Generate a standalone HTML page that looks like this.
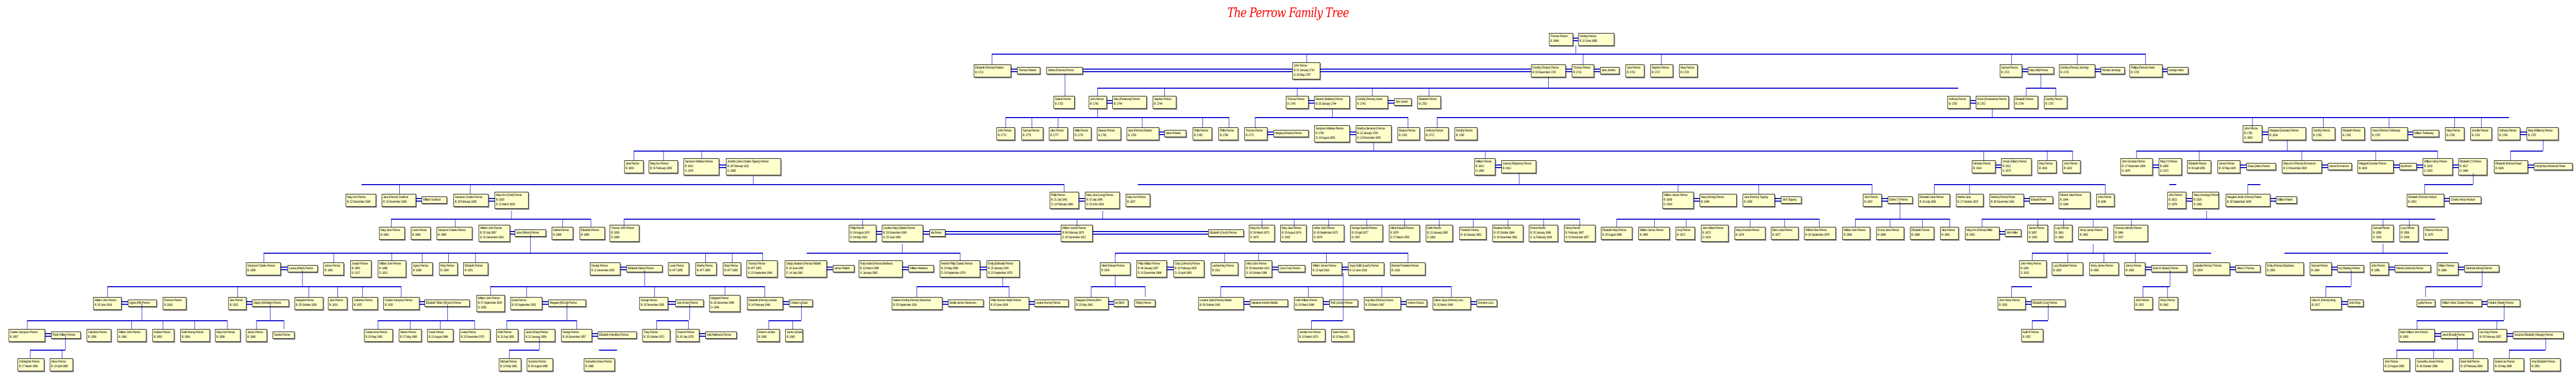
<!DOCTYPE html>
<html><head><meta charset="utf-8"><style>
html,body{margin:0;padding:0;background:#fff;width:100%;height:100%;overflow:hidden}
#c{position:absolute;left:0;top:0;width:6000px;height:733px;overflow:hidden;background:#fff;transform-origin:0 0}
.b{position:absolute;background:#ffffcc;border:1px solid #000;box-shadow:2px 2px 0 #9a9a9a;font:6.5px/9px "Liberation Sans",sans-serif;letter-spacing:-0.45px;overflow:hidden;padding:1px 2px;box-sizing:border-box;white-space:nowrap;color:#000;height:25px}
.t1{height:14px;margin-top:5px;line-height:10px}
.t3{height:33px;margin-top:-4px}
.r0{top:64px}.r1{top:125px}.r2{top:186px}.r3{top:247px}.r4{top:311px}.r5{top:376px}.r6{top:440px}.r7{top:509px}.r8{top:576px}.r9{top:638px}.r10{top:695px}
.h{position:absolute;height:0;border-top:2px solid #0000cc}
.v{position:absolute;width:0;border-left:1px solid #0000cc}
.d{position:absolute;height:3px;border-top:2px solid #0000cc;border-bottom:2px solid #0000cc}
.title{position:absolute;left:2850px;top:10px;width:300px;text-align:center;font:italic 25px "DejaVu Serif",serif;color:#ff0000;letter-spacing:-1px;white-space:nowrap;overflow:hidden}
</style></head><body><div id="c">
<div class="title">The Perrow Family Tree</div>

<div class="b r0" style="left:3608px;width:56px">Thomas Perrow<br>B: 1684</div>
<div class="b r0" style="left:3676px;width:84px">Dorothy Perrow<br>B: 10 June 1689</div>
<div class="d" style="left:3664px;top:73px;width:12px"></div>

<div class="b r1" style="left:2268px;width:87px">Elizabeth (Perrow) Roberts<br>B: 1713</div>
<div class="b r1 t1" style="left:2369px;width:54px">Thomas Roberts</div>
<div class="b r1 t1" style="left:2437px;width:85px">Sabina (Pascoe) Perrow</div>
<div class="b r1 t3" style="left:3010px;width:65px">John Perrow<br>B: 01 January 1710<br>D: 20 May 1787</div>
<div class="b r1" style="left:3566px;width:81px">Dorothy (Tonkyn) Perrow<br>B: 03 December 1720</div>
<div class="b r1" style="left:3661px;width:52px">Thomas Perrow<br>B: 1713</div>
<div class="b r1 t1" style="left:3727px;width:45px">Jane Jenkins</div>
<div class="b r1" style="left:3786px;width:44px">Jane Perrow<br>B: 1715</div>
<div class="b r1" style="left:3844px;width:53px">Stephen Perrow<br>B: 1717</div>
<div class="b r1" style="left:3911px;width:43px">Mary Perrow<br>B: 1719</div>
<div class="b r1" style="left:4658px;width:52px">Samuel Perrow<br>B: 1721</div>
<div class="b r1 t1" style="left:4723px;width:61px">Mary (Hill) Perrow</div>
<div class="b r1" style="left:4796px;width:84px">Dorothy (Perrow) Jennings<br>B: 1723</div>
<div class="b r1 t1" style="left:4893px;width:56px">Richard Jennings</div>
<div class="b r1" style="left:4960px;width:77px">Phillipa (Perrow) Harris<br>B: 1725</div>
<div class="b r1 t1" style="left:5048px;width:49px">George Harris</div>

<div class="b r2" style="left:2454px;width:49px">Sabina Perrow<br>B: 1732</div>
<div class="b r2" style="left:2536px;width:42px">John Perrow<br>B: 1742</div>
<div class="b r2" style="left:2591px;width:80px">Alice (Pentecost) Perrow<br>B: 1744</div>
<div class="b r2" style="left:2685px;width:55px">Stephen Perrow<br>B: 1744</div>
<div class="b r2" style="left:2995px;width:53px">Thomas Perrow<br>B: 1745</div>
<div class="b r2" style="left:3061px;width:83px">Eleanor (Mathew) Perrow<br>B: 25 January 1744</div>
<div class="b r2" style="left:3158px;width:75px">Dorothy (Perrow) Jewel<br>B: 1743</div>
<div class="b r2 t1" style="left:3247px;width:41px">John Jewel</div>
<div class="b r2" style="left:3301px;width:55px">Elizabeth Perrow<br>B: 1752</div>
<div class="b r2" style="left:4536px;width:53px">Anthony Perrow<br>B: 1755</div>
<div class="b r2" style="left:4602px;width:77px">Honor (Rosewarne) Perrow<br>B: 1752</div>
<div class="b r2" style="left:4691px;width:56px">Elizabeth Perrow<br>B: 1754</div>
<div class="b r2" style="left:4761px;width:54px">Dorothy Perrow<br>B: 1757</div>

<div class="b r3" style="left:2321px;width:43px">John Perrow<br>B: 1773</div>
<div class="b r3" style="left:2379px;width:51px">Samuel Perrow<br>B: 1775</div>
<div class="b r3" style="left:2443px;width:44px">Alice Perrow<br>B: 1777</div>
<div class="b r3" style="left:2500px;width:42px">Millie Perrow<br>B: 1779</div>
<div class="b r3" style="left:2555px;width:56px">Eleanor Perrow<br>B: 1781</div>
<div class="b r3" style="left:2624px;width:76px">Jane (Perrow) Roberts<br>B: 1783</div>
<div class="b r3 t1" style="left:2712px;width:51px">Oliver Roberts</div>
<div class="b r3" style="left:2778px;width:45px">Phillis Perrow<br>B: 1785</div>
<div class="b r3" style="left:2838px;width:46px">Phillis Perrow<br>B: 1794</div>
<div class="b r3" style="left:2898px;width:54px">Thomas Perrow<br>B: 1771</div>
<div class="b r3 t1" style="left:2966px;width:82px">Margery (Pearce) Perrow</div>
<div class="b r3 t3" style="left:3061px;width:83px">Sampson Mathew Perrow<br>B: 1780<br>D: 19 August 1851</div>
<div class="b r3 t3" style="left:3158px;width:83px">Martha (Jameson) Perrow<br>B: 12 January 1783<br>D: 13 December 1852</div>
<div class="b r3" style="left:3255px;width:52px">Eleanor Perrow<br>B: 1782</div>
<div class="b r3" style="left:3318px;width:56px">Anthony Perrow<br>B: 1772</div>
<div class="b r3" style="left:3388px;width:53px">Dorothy Perrow<br>B: 1780</div>
<div class="b r3 t3" style="left:5224px;width:45px">John Perrow<br>B: 1781<br>D: 1852</div>
<div class="b r3" style="left:5283px;width:88px">Margaret (Dunstan) Perrow<br>B: 1824</div>
<div class="b r3" style="left:5385px;width:54px">Dorothy Perrow<br>B: 1783</div>
<div class="b r3" style="left:5453px;width:55px">Elizabeth Perrow<br>B: 1785</div>
<div class="b r3" style="left:5522px;width:86px">Honor (Perrow) Trethewey<br>B: 1787</div>
<div class="b r3 t1" style="left:5620px;width:61px">William Trethewey</div>
<div class="b r3" style="left:5695px;width:45px">Mary Perrow<br>B: 1789</div>
<div class="b r3" style="left:5754px;width:50px">Jennifer Perrow<br>B: 1791</div>
<div class="b r3" style="left:5818px;width:52px">Anthony Perrow<br>B: 1794</div>
<div class="b r3" style="left:5885px;width:74px">Mary (Williams) Perrow<br>B: 1797</div>

<div class="b r4" style="left:1454px;width:45px">Jane Perrow<br>B: 1803</div>
<div class="b r4" style="left:1511px;width:68px">Mary Ann Perrow<br>B: 15 February 1805</div>
<div class="b r4 t3" style="left:1592px;width:83px">Sampson Mathew Perrow<br>B: 1810<br>D: 1878</div>
<div class="b r4 t3" style="left:1691px;width:128px">Jennifer (Jane Charles Tippery) Perrow<br>B: 26 February 1811<br>D: 1885</div>
<div class="b r4 t3" style="left:3434px;width:49px">William Perrow<br>B: 1812<br>D: 1863</div>
<div class="b r4" style="left:3497px;width:81px">Joanna (Stephens) Perrow<br>B: 1812</div>
<div class="b r4" style="left:4593px;width:55px">Nicholas Perrow<br>B: 1814</div>
<div class="b r4 t3" style="left:4661px;width:71px">Ursula (Tellam) Perrow<br>B: 1812<br>D: 1873</div>
<div class="b r4" style="left:4746px;width:44px">Mary Perrow<br>B: 1816</div>
<div class="b r4" style="left:4804px;width:42px">John Perrow<br>B: 1822</div>
<div class="b r4 t3" style="left:4939px;width:75px">John Dunstan Perrow<br>B: 17 November 1808<br>D: 1876</div>
<div class="b r4 t3" style="left:5028px;width:54px">Mary (?) Perrow<br>B: 1808<br>D: 1872</div>
<div class="b r4" style="left:5094px;width:56px">Elizabeth Perrow<br>B: 04 April 1855</div>
<div class="b r4" style="left:5165px;width:53px">James Perrow<br>B: 19 May 1828</div>
<div class="b r4 t1" style="left:5232px;width:69px">Grace (Allen) Perrow</div>
<div class="b r4" style="left:5315px;width:93px">Mary Ann (Perrow) Emmerson<br>B: 13 November 1830</div>
<div class="b r4 t1" style="left:5422px;width:56px">James Emmerson</div>
<div class="b r4" style="left:5491px;width:84px">Margaret Dunstan Perrow<br>B: 1818</div>
<div class="b r4 t1" style="left:5589px;width:40px">Ida Brown</div>
<div class="b r4 t3" style="left:5643px;width:70px">William Henry Perrow<br>B: 1819<br>D: 1902</div>
<div class="b r4 t3" style="left:5726px;width:67px">Elizabeth (?) Perrow<br>B: 1817<br>D: 1886</div>
<div class="b r4" style="left:5809px;width:79px">Elizabeth (Perrow) Read<br>B: 1826</div>
<div class="b r4 t1" style="left:5902px;width:90px">Humphrey Woodcock Read</div>

<div class="b r5" style="left:805px;width:71px">Mary Ann Perrow<br>B: 22 December 1830</div>
<div class="b r5" style="left:889px;width:80px">Jane (Perrow) Southcot<br>B: 10 November 1836</div>
<div class="b r5 t1" style="left:982px;width:59px">William Southcot</div>
<div class="b r5" style="left:1056px;width:82px">Sampson Charles Perrow<br>B: 25 February 1839</div>
<div class="b r5 t3" style="left:1152px;width:79px">Mary Ann (Scott) Perrow<br>B: 1829<br>D: 11 March 1916</div>
<div class="b r5 t3" style="left:2445px;width:68px">Philip Perrow<br>B: 21 July 1842<br>D: 13 February 1888</div>
<div class="b r5 t3" style="left:2527px;width:81px">Mary Jane (Long) Perrow<br>B: 10 July 1845<br>D: 23 June 1916</div>
<div class="b r5" style="left:2622px;width:57px">Mary Ann Perrow<br>B: 1837</div>
<div class="b r5 t3" style="left:3872px;width:73px">William James Perrow<br>B: 1838<br>D: 1916</div>
<div class="b r5" style="left:3959px;width:86px">Mary (Hendy) Perrow<br>B: 1846</div>
<div class="b r5" style="left:4059px;width:75px">Jane (Perrow) Tippany<br>B: 1839</div>
<div class="b r5 t1" style="left:4148px;width:48px">John Tippany</div>
<div class="b r5" style="left:4339px;width:44px">John Perrow<br>B: 1847</div>
<div class="b r5 t1" style="left:4397px;width:58px">Esther (?) Perrow</div>
<div class="b r5" style="left:4468px;width:74px">Elizabeth Jane Perrow<br>B: 24 July 1836</div>
<div class="b r5" style="left:4556px;width:64px">Martha Jane<br>B: 17 October 1823</div>
<div class="b r5" style="left:4634px;width:80px">Martha (Perrow) Rowe<br>B: 30 December 1841</div>
<div class="b r5 t1" style="left:4727px;width:55px">Edward Rowe</div>
<div class="b r5 t3" style="left:4795px;width:74px">Eleanor Julia Perrow<br>B: 1844<br>D: 1846</div>
<div class="b r5" style="left:4883px;width:42px">John Perrow<br>B: 1846</div>
<div class="b r5 t3" style="left:5048px;width:44px">John Perrow<br>B: 1821<br>D: 1876</div>
<div class="b r5 t3" style="left:5106px;width:62px">Mary (Jennings) Perrow<br>B: 1820<br>D: 1882</div>
<div class="b r5" style="left:5184px;width:104px">Margaret Jenkin (Perrow) Parker<br>B: 28 September 1838</div>
<div class="b r5 t1" style="left:5301px;width:49px">William Parker</div>
<div class="b r5" style="left:5606px;width:87px">Elizabeth (Perrow) Hodson<br>B: 1851</div>
<div class="b r5 t1" style="left:5705px;width:74px">Charles Henry Hodson</div>

<div class="b r6" style="left:883px;width:60px">Mary Jane Perrow<br>B: 1863</div>
<div class="b r6" style="left:957px;width:46px">Lewis Perrow<br>B: 1864</div>
<div class="b r6" style="left:1017px;width:83px">Sampson Charles Perrow<br>B: 1865</div>
<div class="b r6 t3" style="left:1115px;width:73px">William John Perrow<br>B: 20 July 1867<br>D: 31 December 1932</div>
<div class="b r6 t1" style="left:1199px;width:73px">Jane (Wilson) Perrow</div>
<div class="b r6" style="left:1285px;width:50px">Martha Perrow<br>B: 1868</div>
<div class="b r6" style="left:1350px;width:59px">Elizabeth Perrow<br>B: 1869</div>
<div class="b r6 t3" style="left:1420px;width:69px">Thomas John Perrow<br>B: 1839<br>D: 1869</div>
<div class="b r6 t3" style="left:1977px;width:64px">Philip Perrow<br>B: 24 August 1870<br>D: 24 May 1923</div>
<div class="b r6 t3" style="left:2054px;width:96px">Caroline Mary (Martin) Perrow<br>B: 23 November 1863<br>D: 25 June 1960</div>
<div class="b r6 t1" style="left:2165px;width:37px">Ida Brown</div>
<div class="b r6 t3" style="left:2471px;width:74px">William James Perrow<br>B: 06 February 1873<br>D: 20 December 1912</div>
<div class="b r6 t1" style="left:2814px;width:83px">Elizabeth (Couch) Perrow</div>
<div class="b r6 t3" style="left:2909px;width:60px">Mary Ann Perrow<br>B: 26 March 1873<br>D: 1873</div>
<div class="b r6 t3" style="left:2982px;width:61px">Mary Jane Perrow<br>B: 19 August 1874<br>D: 1929</div>
<div class="b r6 t3" style="left:3057px;width:74px">Arthur John Perrow<br>B: 26 September 1875<br>D: 1876</div>
<div class="b r6 t3" style="left:3145px;width:76px">George Samuel Perrow<br>B: 15 April 1877<br>D: 1937</div>
<div class="b r6 t3" style="left:3235px;width:72px">Albert Edward Perrow<br>B: 1878<br>D: 27 March 1953</div>
<div class="b r6 t3" style="left:3321px;width:63px">Edith Perrow<br>B: 13 January 1880<br>D: 1881</div>
<div class="b r6" style="left:3399px;width:63px">Frederick Perrow<br>B: 18 January 1881</div>
<div class="b r6 t3" style="left:3476px;width:72px">Beatrice Perrow<br>B: 20 October 1884<br>D: 30 November 1961</div>
<div class="b r6 t3" style="left:3561px;width:68px">Ernest Perrow<br>B: 25 January 1886<br>D: 11 February 1926</div>
<div class="b r6 t3" style="left:3643px;width:73px">Henry Perrow<br>B: February 1887<br>D: 02 November 1957</div>
<div class="b r6" style="left:3729px;width:73px">Elizabeth Mary Perrow<br>B: 20 August 1865</div>
<div class="b r6" style="left:3816px;width:73px">William James Perrow<br>B: 1869</div>
<div class="b r6" style="left:3903px;width:45px">Amy Perrow<br>B: 1871</div>
<div class="b r6 t3" style="left:3962px;width:64px">John Gilbert Perrow<br>B: 1873<br>D: 1914</div>
<div class="b r6" style="left:4040px;width:72px">Mary Amanda Perrow<br>B: 1876</div>
<div class="b r6" style="left:4125px;width:64px">Ellen Linda Perrow<br>B: 1877</div>
<div class="b r6" style="left:4202px;width:74px">Wilfred Clive Perrow<br>B: 25 September 1879</div>
<div class="b r6" style="left:4291px;width:65px">William John Perrow<br>B: 1884</div>
<div class="b r6" style="left:4370px;width:65px">Emma Jane Perrow<br>B: 1886</div>
<div class="b r6" style="left:4449px;width:56px">Elizabeth Perrow<br>B: 1888</div>
<div class="b r6" style="left:4519px;width:43px">Alice Perrow<br>B: 1891</div>
<div class="b r6" style="left:4577px;width:80px">Mary Ann (Perrow) Miller<br>B: 1853</div>
<div class="b r6 t1" style="left:4670px;width:38px">John Miller</div>
<div class="b r6 t3" style="left:4722px;width:48px">James Perrow<br>B: 1857<br>D: 1925</div>
<div class="b r6 t3" style="left:4784px;width:43px">Lucy Perrow<br>B: 1861<br>D: 1862</div>
<div class="b r6" style="left:4841px;width:68px">Henry James Perrow<br>B: 1863</div>
<div class="b r6 t3" style="left:4923px;width:80px">Thomas Anthony Perrow<br>B: 1864<br>D: 1937</div>
<div class="b r6 t3" style="left:5524px;width:51px">Samuel Perrow<br>B: 1856<br>D: 1930</div>
<div class="b r6 t3" style="left:5589px;width:44px">Lucy Perrow<br>B: 1858<br>D: 1939</div>
<div class="b r6" style="left:5645px;width:57px">Florence Perrow<br>B: 1870</div>

<div class="b r7" style="left:573px;width:81px">Sampson Charles Perrow<br>B: 1895</div>
<div class="b r7 t1" style="left:670px;width:70px">Louisa (Welch) Perrow</div>
<div class="b r7" style="left:753px;width:48px">James Perrow<br>B: 1891</div>
<div class="b r7 t3" style="left:816px;width:49px">Joseph Perrow<br>B: 1893<br>D: 1917</div>
<div class="b r7 t3" style="left:880px;width:66px">William John Perrow<br>B: 1896<br>D: 1912</div>
<div class="b r7" style="left:959px;width:49px">Agnes Perrow<br>B: 1899</div>
<div class="b r7" style="left:1023px;width:43px">Mary Perrow<br>B: 1900</div>
<div class="b r7" style="left:1079px;width:58px">Elizabeth Perrow<br>B: 1901</div>
<div class="b r7" style="left:1374px;width:71px">George Perrow<br>B: 11 December 1900</div>
<div class="b r7 t1" style="left:1459px;width:84px">Elizabeth (Silver) Perrow</div>
<div class="b r7" style="left:1556px;width:49px">Lewis Perrow<br>B: AFT 1895</div>
<div class="b r7" style="left:1620px;width:49px">Martha Perrow<br>B: AFT 1895</div>
<div class="b r7" style="left:1684px;width:42px">Mary Perrow<br>B: AFT 1895</div>
<div class="b r7 t3" style="left:1739px;width:72px">Thomas Perrow<br>B: AFT 1905<br>D: 23 September 1984</div>
<div class="b r7 t3" style="left:1828px;width:98px">Gladys Beatrice (Perrow) Riddell<br>B: 16 June 1891<br>D: 14 July 1962</div>
<div class="b r7 t1" style="left:1940px;width:50px">James Riddell</div>
<div class="b r7 t3" style="left:2000px;width:102px">Ruby Isobel (Perrow) Mathews<br>B: 13 March 1895<br>D: January 1982</div>
<div class="b r7 t1" style="left:2116px;width:59px">William Mathews</div>
<div class="b r7 t3" style="left:2189px;width:94px">Herbert Philip Charles Perrow<br>B: 23 May 1898<br>D: 24 September 1978</div>
<div class="b r7 t3" style="left:2298px;width:77px">Emily (Bothwell) Perrow<br>B: 25 January 1900<br>D: 23 September 1979</div>
<div class="b r7" style="left:2562px;width:71px">Albert Edward Perrow<br>B: 1905</div>
<div class="b r7 t3" style="left:2647px;width:71px">Philip William Perrow<br>B: 08 January 1907<br>D: 10 December 1986</div>
<div class="b r7 t3" style="left:2733px;width:72px">Clara (Johnson) Perrow<br>B: 15 February 1905<br>D: 13 April 1993</div>
<div class="b r7" style="left:2820px;width:64px">Lavinia Mary Perrow<br>B: 1911</div>
<div class="b r7 t3" style="left:2899px;width:64px">Arthur John Perrow<br>B: 15 December 1912<br>D: 19 October 1989</div>
<div class="b r7 t1" style="left:2977px;width:63px">Cora (Tuck) Perrow</div>
<div class="b r7" style="left:3054px;width:72px">William James Perrow<br>B: 22 April 1916</div>
<div class="b r7" style="left:3140px;width:84px">Joyce Edith (Leach) Perrow<br>B: 12 June 1918</div>
<div class="b r7" style="left:3238px;width:82px">Bernard Frederick Perrow<br>B: 1918</div>
<div class="b r7 t3" style="left:4703px;width:64px">John Henry Perrow<br>B: 1891<br>D: 1915</div>
<div class="b r7" style="left:4779px;width:73px">Lucy Elizabeth Perrow<br>B: 1892</div>
<div class="b r7" style="left:4866px;width:69px">Henry James Perrow<br>B: 1895</div>
<div class="b r7" style="left:4948px;width:49px">James Perrow<br>B: 1893</div>
<div class="b r7 t1" style="left:5011px;width:83px">Doris M. (Baker) Perrow</div>
<div class="b r7" style="left:5108px;width:86px">Isabella (Perrow) Thomas<br>B: 1900</div>
<div class="b r7 t1" style="left:5207px;width:58px">Alfred J Thomas</div>
<div class="b r7" style="left:5277px;width:89px">Emily (Perrow) Bradshaw<br>B: 1891</div>
<div class="b r7" style="left:5380px;width:51px">Samuel Perrow<br>B: 1894</div>
<div class="b r7 t1" style="left:5444px;width:62px">Ivy (Stanley) Perrow</div>
<div class="b r7" style="left:5520px;width:44px">John Perrow<br>B: 1896</div>
<div class="b r7 t1" style="left:5578px;width:84px">Winnie (Osborne) Perrow</div>
<div class="b r7" style="left:5676px;width:50px">William Perrow<br>B: 1898</div>
<div class="b r7 t1" style="left:5740px;width:81px">Gertrude (Wood) Perrow</div>

<div class="b r8" style="left:217px;width:66px">William John Perrow<br>B: 03 June 1916</div>
<div class="b r8 t1" style="left:298px;width:67px">Agnes (Pitt) Perrow</div>
<div class="b r8" style="left:379px;width:55px">Florence Perrow<br>B: 1918</div>
<div class="b r8" style="left:532px;width:42px">Alec Perrow<br>B: 1922</div>
<div class="b r8 t1" style="left:587px;width:86px">Gladys (McKellan) Perrow</div>
<div class="b r8" style="left:686px;width:67px">Margaret Perrow<br>B: 25 October 1926</div>
<div class="b r8" style="left:764px;width:45px">Jane Perrow<br>B: 1931</div>
<div class="b r8" style="left:821px;width:59px">Catherine Perrow<br>B: 1937</div>
<div class="b r8" style="left:893px;width:84px">Charles Sampson Perrow<br>B: 1932</div>
<div class="b r8 t1" style="left:989px;width:105px">Elizabeth Tilden (Simons) Perrow</div>
<div class="b r8 t3" style="left:1110px;width:66px">William John Perrow<br>B: 07 September 1930<br>D: 1955</div>
<div class="b r8" style="left:1189px;width:74px">David Perrow<br>B: 03 September 1932</div>
<div class="b r8 t1" style="left:1277px;width:88px">Margaret (McCall) Perrow</div>
<div class="b r8" style="left:1489px;width:67px">George Perrow<br>B: 20 December 1935</div>
<div class="b r8 t1" style="left:1573px;width:66px">Joan (Kraw) Perrow</div>
<div class="b r8 t3" style="left:1652px;width:72px">Margaret Perrow<br>B: 16 December 1946<br>D: 1946</div>
<div class="b r8" style="left:1740px;width:84px">Elizabeth (Perrow) LeClare<br>B: 14 February 1948</div>
<div class="b r8 t1" style="left:1838px;width:55px">Charles LeClare</div>
<div class="b r8" style="left:2077px;width:118px">Valerie Dorothy (Perrow) Stevenson<br>B: 05 September 1931</div>
<div class="b r8 t1" style="left:2208px;width:83px">Neville James Stevenson</div>
<div class="b r8" style="left:2304px;width:93px">Philip Norman Martin Perrow<br>B: 20 June 1938</div>
<div class="b r8 t1" style="left:2409px;width:80px">Loraine (Kemp) Perrow</div>
<div class="b r8" style="left:2503px;width:79px">Margaret (Perrow) Birch<br>B: 22 May 1942</div>
<div class="b r8 t1" style="left:2594px;width:34px">Ian Birch</div>
<div class="b r8 t1" style="left:2642px;width:49px">Shirley Perrow</div>
<div class="b r8" style="left:2791px;width:106px">Lorraine Sybil (Perrow) Marble<br>B: 05 October 1941</div>
<div class="b r8 t1" style="left:2911px;width:89px">Salvatore Antonio Marble</div>
<div class="b r8" style="left:3014px;width:68px">Keith William Perrow<br>B: 23 March 1946</div>
<div class="b r8 t1" style="left:3096px;width:67px">Ruth (Jones) Perrow</div>
<div class="b r8" style="left:3177px;width:86px">Kay Alice (Perrow) Grasso<br>B: 20 March 1947</div>
<div class="b r8 t1" style="left:3275px;width:49px">Antonio Grasso</div>
<div class="b r8" style="left:3337px;width:89px">Elaine Joyce (Perrow) Loco<br>B: 15 March 1949</div>
<div class="b r8 t1" style="left:3439px;width:48px">Domenic Loco</div>
<div class="b r8" style="left:4653px;width:65px">John Henry Perrow<br>B: 1920</div>
<div class="b r8 t1" style="left:4731px;width:80px">Elizabeth (Coe) Perrow</div>
<div class="b r8" style="left:4971px;width:43px">John Perrow<br>B: 1922</div>
<div class="b r8" style="left:5028px;width:45px">Henry Perrow<br>B: 1942</div>
<div class="b r8" style="left:5381px;width:73px">Olive M. (Perrow) Bray<br>B: 1917</div>
<div class="b r8 t1" style="left:5468px;width:37px">Victor Bray</div>
<div class="b r8 t1" style="left:5629px;width:43px">Lydia Perrow</div>
<div class="b r8 t1" style="left:5685px;width:96px">William Victor Charles Perrow</div>
<div class="b r8 t1" style="left:5793px;width:77px">Pauline (Steele) Perrow</div>

<div class="b r9" style="left:20px;width:85px">Charles Sampson Perrow<br>B: 1957</div>
<div class="b r9 t1" style="left:119px;width:69px">Robin William Perrow</div>
<div class="b r9" style="left:202px;width:57px">Catherine Perrow<br>B: 1958</div>
<div class="b r9" style="left:273px;width:68px">William John Perrow<br>B: 1960</div>
<div class="b r9" style="left:355px;width:51px">Andrew Perrow<br>B: 1953</div>
<div class="b r9" style="left:420px;width:69px">Keith Murray Perrow<br>B: 1954</div>
<div class="b r9" style="left:501px;width:59px">Mary Ann Perrow<br>B: 1956</div>
<div class="b r9" style="left:573px;width:49px">James Perrow<br>B: 1960</div>
<div class="b r9 t1" style="left:635px;width:51px">Sandra Perrow</div>
<div class="b r9" style="left:848px;width:67px">Carole-Anne Perrow<br>B: 20 May 1963</div>
<div class="b r9" style="left:929px;width:53px">Steven Perrow<br>B: 27 May 1965</div>
<div class="b r9" style="left:995px;width:61px">Susan Perrow<br>B: 10 August 1966</div>
<div class="b r9" style="left:1070px;width:72px">Lesley Perrow<br>B: 23 November 1970</div>
<div class="b r9" style="left:1156px;width:51px">Keith Perrow<br>B: 23 July 1955</div>
<div class="b r9" style="left:1221px;width:72px">Janet (Shaw) Perrow<br>B: 22 January 1956</div>
<div class="b r9" style="left:1307px;width:72px">George Perrow<br>B: 16 December 1957</div>
<div class="b r9 t1" style="left:1392px;width:91px">Elizabeth (Hamilton) Perrow</div>
<div class="b r9" style="left:1496px;width:65px">Tracy Perrow<br>B: 15 October 1971</div>
<div class="b r9" style="left:1574px;width:55px">Graeme Perrow<br>B: 30 July 1979</div>
<div class="b r9 t1" style="left:1643px;width:73px">Gail (Mathews) Perrow</div>
<div class="b r9" style="left:1763px;width:53px">Sharon LeClare<br>B: 1980</div>
<div class="b r9" style="left:1829px;width:41px">Jamie LeClare<br>B: 1982</div>
<div class="b r9" style="left:3023px;width:64px">Jennifer Ann Perrow<br>B: 10 March 1970</div>
<div class="b r9" style="left:3101px;width:53px">Karen Perrow<br>B: 15 May 1972</div>
<div class="b r9" style="left:4708px;width:51px">Keith R Perrow<br>B: 1957</div>
<div class="b r9" style="left:5587px;width:84px">Mark William John Perrow<br>B: 1955</div>
<div class="b r9 t1" style="left:5685px;width:75px">Janet (Boxall) Perrow</div>
<div class="b r9" style="left:5772px;width:67px">Lee Gary Perrow<br>B: 03 February 1957</div>
<div class="b r9 t1" style="left:5853px;width:118px">Suzanne Elizabeth (Strange) Perrow</div>

<div class="b r10" style="left:41px;width:62px">Christopher Perrow<br>B: 17 March 1984</div>
<div class="b r10" style="left:116px;width:54px">Alison Perrow<br>B: 13 April 1988</div>
<div class="b r10" style="left:1162px;width:52px">Michael Perrow<br>B: 23 May 1981</div>
<div class="b r10" style="left:1227px;width:61px">Suzanne Perrow<br>B: 30 August 1986</div>
<div class="b r10" style="left:1360px;width:72px">Samantha Grace Perrow<br>B: 1988</div>
<div class="b r10" style="left:5551px;width:62px">John Perrow<br>B: 22 August 1985</div>
<div class="b r10" style="left:5626px;width:87px">Samantha Jessie Perrow<br>B: 26 October 1986</div>
<div class="b r10" style="left:5728px;width:67px">Dean Neil Perrow<br>B: 16 February 1984</div>
<div class="b r10" style="left:5808px;width:71px">Daniel Lee Perrow<br>B: 20 May 1988</div>
<div class="b r10" style="left:5893px;width:71px">Amy Elizabeth Perrow<br>B: 1991</div>

<div class="h" style="top:104px;left:2310px;width:2687px"></div>
<div class="h" style="top:170px;left:2556px;width:2005px"></div>
<div class="h" style="top:170px;left:4719px;width:69px"></div>
<div class="h" style="top:227px;left:2342px;width:520px"></div>
<div class="h" style="top:227px;left:2923px;width:356px"></div>
<div class="h" style="top:227px;left:3347px;width:2497px"></div>
<div class="h" style="top:292px;left:1476px;width:3351px"></div>
<div class="h" style="top:292px;left:4976px;width:701px"></div>
<div class="h" style="top:292px;left:5847px;width:76px"></div>
<div class="h" style="top:357px;left:842px;width:1636px"></div>
<div class="h" style="top:357px;left:2650px;width:1710px"></div>
<div class="h" style="top:357px;left:4505px;width:398px"></div>
<div class="h" style="top:357px;left:5053px;width:16px"></div>
<div class="h" style="top:357px;left:5235px;width:30px"></div>
<div class="h" style="top:357px;left:5647px;width:113px"></div>
<div class="h" style="top:424px;left:911px;width:465px"></div>
<div class="h" style="top:424px;left:1453px;width:2226px"></div>
<div class="h" style="top:424px;left:3765px;width:472px"></div>
<div class="h" style="top:424px;left:4321px;width:220px"></div>
<div class="h" style="top:424px;left:4616px;width:1056px"></div>
<div class="h" style="top:490px;left:614px;width:1162px"></div>
<div class="h" style="top:490px;left:1879px;width:357px"></div>
<div class="h" style="top:490px;left:2597px;width:682px"></div>
<div class="h" style="top:490px;left:4733px;width:417px"></div>
<div class="h" style="top:490px;left:5321px;width:381px"></div>
<div class="h" style="top:555px;left:250px;width:684px"></div>
<div class="h" style="top:555px;left:1142px;width:639px"></div>
<div class="h" style="top:555px;left:2135px;width:215px"></div>
<div class="h" style="top:555px;left:2541px;width:126px"></div>
<div class="h" style="top:555px;left:2843px;width:537px"></div>
<div class="h" style="top:555px;left:4685px;width:48px"></div>
<div class="h" style="top:555px;left:4991px;width:63px"></div>
<div class="h" style="top:555px;left:5417px;width:59px"></div>
<div class="h" style="top:555px;left:5649px;width:132px"></div>
<div class="h" style="top:621px;left:63px;width:466px"></div>
<div class="h" style="top:621px;left:597px;width:64px"></div>
<div class="h" style="top:621px;left:880px;width:225px"></div>
<div class="h" style="top:621px;left:1180px;width:163px"></div>
<div class="h" style="top:621px;left:1529px;width:74px"></div>
<div class="h" style="top:621px;left:1790px;width:76px"></div>
<div class="h" style="top:621px;left:3054px;width:74px"></div>
<div class="h" style="top:621px;left:4733px;width:37px"></div>
<div class="h" style="top:621px;left:5629px;width:203px"></div>
<div class="h" style="top:678px;left:70px;width:82px"></div>
<div class="h" style="top:678px;left:1186px;width:70px"></div>
<div class="h" style="top:678px;left:1395px;width:42px"></div>
<div class="h" style="top:678px;left:5582px;width:178px"></div>
<div class="h" style="top:678px;left:5844px;width:85px"></div>

<div class="d" style="top:133px;left:2522px;width:488px"></div>
<div class="d" style="top:133px;left:3075px;width:491px"></div>
<div class="d" style="top:448px;left:2202px;width:269px"></div>
<div class="d" style="top:448px;left:2545px;width:269px"></div>
<div class="d" style="top:133px;left:2355px;width:14px"></div>
<div class="d" style="top:133px;left:3647px;width:14px"></div>
<div class="d" style="top:133px;left:3713px;width:14px"></div>
<div class="d" style="top:133px;left:4710px;width:13px"></div>
<div class="d" style="top:133px;left:4880px;width:13px"></div>
<div class="d" style="top:133px;left:5037px;width:11px"></div>
<div class="d" style="top:194px;left:2578px;width:13px"></div>
<div class="d" style="top:194px;left:3048px;width:13px"></div>
<div class="d" style="top:194px;left:3233px;width:14px"></div>
<div class="d" style="top:194px;left:4589px;width:13px"></div>
<div class="d" style="top:255px;left:2700px;width:12px"></div>
<div class="d" style="top:255px;left:2952px;width:14px"></div>
<div class="d" style="top:255px;left:3144px;width:14px"></div>
<div class="d" style="top:255px;left:5269px;width:14px"></div>
<div class="d" style="top:255px;left:5608px;width:12px"></div>
<div class="d" style="top:255px;left:5870px;width:15px"></div>
<div class="d" style="top:319px;left:1675px;width:16px"></div>
<div class="d" style="top:319px;left:3483px;width:14px"></div>
<div class="d" style="top:319px;left:4648px;width:13px"></div>
<div class="d" style="top:319px;left:5014px;width:14px"></div>
<div class="d" style="top:319px;left:5218px;width:14px"></div>
<div class="d" style="top:319px;left:5408px;width:14px"></div>
<div class="d" style="top:319px;left:5575px;width:14px"></div>
<div class="d" style="top:319px;left:5629px;width:14px"></div>
<div class="d" style="top:319px;left:5713px;width:13px"></div>
<div class="d" style="top:319px;left:5888px;width:14px"></div>
<div class="d" style="top:384px;left:969px;width:13px"></div>
<div class="d" style="top:384px;left:1138px;width:14px"></div>
<div class="d" style="top:384px;left:2513px;width:14px"></div>
<div class="d" style="top:384px;left:3945px;width:14px"></div>
<div class="d" style="top:384px;left:4134px;width:14px"></div>
<div class="d" style="top:384px;left:4383px;width:14px"></div>
<div class="d" style="top:384px;left:4714px;width:13px"></div>
<div class="d" style="top:384px;left:5092px;width:14px"></div>
<div class="d" style="top:384px;left:5288px;width:13px"></div>
<div class="d" style="top:384px;left:5693px;width:12px"></div>
<div class="d" style="top:448px;left:1188px;width:11px"></div>
<div class="d" style="top:448px;left:2041px;width:13px"></div>
<div class="d" style="top:448px;left:2150px;width:15px"></div>
<div class="d" style="top:448px;left:4657px;width:13px"></div>
<div class="d" style="top:517px;left:654px;width:16px"></div>
<div class="d" style="top:517px;left:1445px;width:14px"></div>
<div class="d" style="top:517px;left:1926px;width:14px"></div>
<div class="d" style="top:517px;left:2102px;width:14px"></div>
<div class="d" style="top:517px;left:2283px;width:15px"></div>
<div class="d" style="top:517px;left:2718px;width:15px"></div>
<div class="d" style="top:517px;left:2963px;width:14px"></div>
<div class="d" style="top:517px;left:3126px;width:14px"></div>
<div class="d" style="top:517px;left:4997px;width:14px"></div>
<div class="d" style="top:517px;left:5194px;width:13px"></div>
<div class="d" style="top:517px;left:5431px;width:13px"></div>
<div class="d" style="top:517px;left:5564px;width:14px"></div>
<div class="d" style="top:517px;left:5726px;width:14px"></div>
<div class="d" style="top:584px;left:283px;width:15px"></div>
<div class="d" style="top:584px;left:574px;width:13px"></div>
<div class="d" style="top:584px;left:977px;width:12px"></div>
<div class="d" style="top:584px;left:1263px;width:14px"></div>
<div class="d" style="top:584px;left:1556px;width:17px"></div>
<div class="d" style="top:584px;left:1824px;width:14px"></div>
<div class="d" style="top:584px;left:2195px;width:13px"></div>
<div class="d" style="top:584px;left:2397px;width:12px"></div>
<div class="d" style="top:584px;left:2582px;width:12px"></div>
<div class="d" style="top:584px;left:2897px;width:14px"></div>
<div class="d" style="top:584px;left:3082px;width:14px"></div>
<div class="d" style="top:584px;left:3263px;width:12px"></div>
<div class="d" style="top:584px;left:3426px;width:13px"></div>
<div class="d" style="top:584px;left:4718px;width:13px"></div>
<div class="d" style="top:584px;left:5454px;width:14px"></div>
<div class="d" style="top:584px;left:5781px;width:12px"></div>
<div class="d" style="top:646px;left:105px;width:14px"></div>
<div class="d" style="top:646px;left:1379px;width:13px"></div>
<div class="d" style="top:646px;left:1629px;width:14px"></div>
<div class="d" style="top:646px;left:5671px;width:14px"></div>
<div class="d" style="top:646px;left:5839px;width:14px"></div>

<div class="v" style="left:3670px;top:88px;height:16px"></div>
<div class="v" style="left:2310px;top:104px;height:21px"></div>
<div class="v" style="left:3043px;top:104px;height:17px"></div>
<div class="v" style="left:3687px;top:104px;height:21px"></div>
<div class="v" style="left:3869px;top:104px;height:21px"></div>
<div class="v" style="left:4685px;top:104px;height:21px"></div>
<div class="v" style="left:4838px;top:104px;height:21px"></div>
<div class="v" style="left:4997px;top:104px;height:21px"></div>
<div class="v" style="left:2480px;top:144px;height:42px"></div>
<div class="v" style="left:3606px;top:150px;height:20px"></div>
<div class="v" style="left:4753px;top:144px;height:26px"></div>
<div class="v" style="left:2556px;top:170px;height:16px"></div>
<div class="v" style="left:2712px;top:170px;height:16px"></div>
<div class="v" style="left:3021px;top:170px;height:16px"></div>
<div class="v" style="left:3196px;top:170px;height:16px"></div>
<div class="v" style="left:3328px;top:170px;height:16px"></div>
<div class="v" style="left:4719px;top:170px;height:16px"></div>
<div class="v" style="left:4788px;top:170px;height:16px"></div>
<div class="v" style="left:2556px;top:211px;height:16px"></div>
<div class="v" style="left:3103px;top:211px;height:16px"></div>
<div class="v" style="left:4640px;top:211px;height:16px"></div>
<div class="v" style="left:2342px;top:227px;height:20px"></div>
<div class="v" style="left:2403px;top:227px;height:20px"></div>
<div class="v" style="left:2464px;top:227px;height:20px"></div>
<div class="v" style="left:2660px;top:227px;height:20px"></div>
<div class="v" style="left:2801px;top:227px;height:20px"></div>
<div class="v" style="left:2862px;top:227px;height:20px"></div>
<div class="v" style="left:2923px;top:227px;height:20px"></div>
<div class="v" style="left:3279px;top:227px;height:20px"></div>
<div class="v" style="left:3347px;top:227px;height:20px"></div>
<div class="v" style="left:5246px;top:227px;height:20px"></div>
<div class="v" style="left:5411px;top:227px;height:20px"></div>
<div class="v" style="left:5564px;top:227px;height:20px"></div>
<div class="v" style="left:5717px;top:227px;height:20px"></div>
<div class="v" style="left:5779px;top:227px;height:20px"></div>
<div class="v" style="left:3199px;top:277px;height:15px"></div>
<div class="v" style="left:5327px;top:272px;height:20px"></div>
<div class="v" style="left:5923px;top:272px;height:20px"></div>
<div class="v" style="left:1476px;top:292px;height:19px"></div>
<div class="v" style="left:1545px;top:292px;height:19px"></div>
<div class="v" style="left:1634px;top:292px;height:16px"></div>
<div class="v" style="left:3459px;top:292px;height:16px"></div>
<div class="v" style="left:4620px;top:292px;height:19px"></div>
<div class="v" style="left:4768px;top:292px;height:19px"></div>
<div class="v" style="left:4827px;top:292px;height:19px"></div>
<div class="v" style="left:4976px;top:292px;height:16px"></div>
<div class="v" style="left:5122px;top:292px;height:19px"></div>
<div class="v" style="left:5361px;top:292px;height:19px"></div>
<div class="v" style="left:5533px;top:292px;height:19px"></div>
<div class="v" style="left:5677px;top:292px;height:16px"></div>
<div class="v" style="left:5847px;top:292px;height:19px"></div>
<div class="v" style="left:1754px;top:342px;height:15px"></div>
<div class="v" style="left:3538px;top:336px;height:21px"></div>
<div class="v" style="left:5760px;top:336px;height:21px"></div>
<div class="v" style="left:930px;top:357px;height:19px"></div>
<div class="v" style="left:1095px;top:357px;height:19px"></div>
<div class="v" style="left:2478px;top:357px;height:16px"></div>
<div class="v" style="left:3908px;top:357px;height:16px"></div>
<div class="v" style="left:4096px;top:357px;height:19px"></div>
<div class="v" style="left:4360px;top:357px;height:19px"></div>
<div class="v" style="left:4505px;top:357px;height:19px"></div>
<div class="v" style="left:4587px;top:357px;height:19px"></div>
<div class="v" style="left:4903px;top:357px;height:19px"></div>
<div class="v" style="left:5235px;top:357px;height:19px"></div>
<div class="v" style="left:5647px;top:357px;height:19px"></div>
<div class="v" style="left:1191px;top:409px;height:15px"></div>
<div class="v" style="left:2568px;top:409px;height:15px"></div>
<div class="v" style="left:4425px;top:391px;height:33px"></div>
<div class="v" style="left:5139px;top:409px;height:15px"></div>
<div class="v" style="left:911px;top:424px;height:16px"></div>
<div class="v" style="left:1060px;top:424px;height:16px"></div>
<div class="v" style="left:1310px;top:424px;height:16px"></div>
<div class="v" style="left:1376px;top:424px;height:16px"></div>
<div class="v" style="left:1453px;top:424px;height:16px"></div>
<div class="v" style="left:2009px;top:424px;height:16px"></div>
<div class="v" style="left:2508px;top:424px;height:16px"></div>
<div class="v" style="left:2939px;top:424px;height:16px"></div>
<div class="v" style="left:3014px;top:424px;height:16px"></div>
<div class="v" style="left:3094px;top:424px;height:16px"></div>
<div class="v" style="left:3183px;top:424px;height:16px"></div>
<div class="v" style="left:3271px;top:424px;height:16px"></div>
<div class="v" style="left:3352px;top:424px;height:16px"></div>
<div class="v" style="left:3431px;top:424px;height:16px"></div>
<div class="v" style="left:3512px;top:424px;height:16px"></div>
<div class="v" style="left:3595px;top:424px;height:16px"></div>
<div class="v" style="left:3679px;top:424px;height:16px"></div>
<div class="v" style="left:3765px;top:424px;height:16px"></div>
<div class="v" style="left:3853px;top:424px;height:16px"></div>
<div class="v" style="left:3927px;top:424px;height:16px"></div>
<div class="v" style="left:4076px;top:424px;height:16px"></div>
<div class="v" style="left:4156px;top:424px;height:16px"></div>
<div class="v" style="left:4237px;top:424px;height:16px"></div>
<div class="v" style="left:4321px;top:424px;height:16px"></div>
<div class="v" style="left:4402px;top:424px;height:16px"></div>
<div class="v" style="left:4477px;top:424px;height:16px"></div>
<div class="v" style="left:4541px;top:424px;height:16px"></div>
<div class="v" style="left:4616px;top:424px;height:16px"></div>
<div class="v" style="left:4746px;top:424px;height:16px"></div>
<div class="v" style="left:4806px;top:424px;height:16px"></div>
<div class="v" style="left:4875px;top:424px;height:16px"></div>
<div class="v" style="left:4964px;top:424px;height:16px"></div>
<div class="v" style="left:5550px;top:424px;height:16px"></div>
<div class="v" style="left:5611px;top:424px;height:16px"></div>
<div class="v" style="left:1235px;top:455px;height:35px"></div>
<div class="v" style="left:2101px;top:473px;height:17px"></div>
<div class="v" style="left:4875px;top:473px;height:17px"></div>
<div class="v" style="left:5550px;top:473px;height:17px"></div>
<div class="v" style="left:614px;top:490px;height:19px"></div>
<div class="v" style="left:777px;top:490px;height:19px"></div>
<div class="v" style="left:912px;top:490px;height:16px"></div>
<div class="v" style="left:983px;top:490px;height:19px"></div>
<div class="v" style="left:1044px;top:490px;height:19px"></div>
<div class="v" style="left:1107px;top:490px;height:19px"></div>
<div class="v" style="left:1643px;top:490px;height:19px"></div>
<div class="v" style="left:1705px;top:490px;height:19px"></div>
<div class="v" style="left:1776px;top:490px;height:16px"></div>
<div class="v" style="left:2236px;top:490px;height:16px"></div>
<div class="v" style="left:2597px;top:490px;height:19px"></div>
<div class="v" style="left:2852px;top:490px;height:19px"></div>
<div class="v" style="left:2931px;top:490px;height:16px"></div>
<div class="v" style="left:3089px;top:490px;height:19px"></div>
<div class="v" style="left:3279px;top:490px;height:19px"></div>
<div class="v" style="left:4733px;top:490px;height:16px"></div>
<div class="v" style="left:4816px;top:490px;height:19px"></div>
<div class="v" style="left:4900px;top:490px;height:19px"></div>
<div class="v" style="left:4973px;top:490px;height:19px"></div>
<div class="v" style="left:704px;top:524px;height:31px"></div>
<div class="v" style="left:1501px;top:524px;height:31px"></div>
<div class="v" style="left:2335px;top:538px;height:17px"></div>
<div class="v" style="left:2597px;top:534px;height:21px"></div>
<div class="v" style="left:3128px;top:530px;height:91px"></div>
<div class="v" style="left:5054px;top:524px;height:31px"></div>
<div class="v" style="left:5476px;top:524px;height:31px"></div>
<div class="v" style="left:5781px;top:524px;height:31px"></div>
<div class="v" style="left:250px;top:555px;height:21px"></div>
<div class="v" style="left:553px;top:555px;height:21px"></div>
<div class="v" style="left:719px;top:555px;height:21px"></div>
<div class="v" style="left:786px;top:555px;height:21px"></div>
<div class="v" style="left:844px;top:555px;height:21px"></div>
<div class="v" style="left:934px;top:555px;height:21px"></div>
<div class="v" style="left:1142px;top:555px;height:17px"></div>
<div class="v" style="left:1226px;top:555px;height:21px"></div>
<div class="v" style="left:1524px;top:555px;height:21px"></div>
<div class="v" style="left:1688px;top:555px;height:17px"></div>
<div class="v" style="left:1781px;top:555px;height:21px"></div>
<div class="v" style="left:2135px;top:555px;height:21px"></div>
<div class="v" style="left:2350px;top:555px;height:21px"></div>
<div class="v" style="left:2541px;top:555px;height:21px"></div>
<div class="v" style="left:2667px;top:555px;height:21px"></div>
<div class="v" style="left:2843px;top:555px;height:21px"></div>
<div class="v" style="left:3047px;top:555px;height:21px"></div>
<div class="v" style="left:3218px;top:555px;height:21px"></div>
<div class="v" style="left:3380px;top:555px;height:21px"></div>
<div class="v" style="left:4685px;top:555px;height:21px"></div>
<div class="v" style="left:4991px;top:555px;height:21px"></div>
<div class="v" style="left:5048px;top:555px;height:21px"></div>
<div class="v" style="left:5417px;top:555px;height:21px"></div>
<div class="v" style="left:5649px;top:555px;height:21px"></div>
<div class="v" style="left:330px;top:590px;height:31px"></div>
<div class="v" style="left:629px;top:590px;height:31px"></div>
<div class="v" style="left:1042px;top:590px;height:31px"></div>
<div class="v" style="left:1320px;top:590px;height:31px"></div>
<div class="v" style="left:1606px;top:590px;height:31px"></div>
<div class="v" style="left:1866px;top:590px;height:31px"></div>
<div class="v" style="left:4770px;top:590px;height:31px"></div>
<div class="v" style="left:5832px;top:590px;height:31px"></div>
<div class="v" style="left:63px;top:621px;height:17px"></div>
<div class="v" style="left:306px;top:621px;height:17px"></div>
<div class="v" style="left:379px;top:621px;height:17px"></div>
<div class="v" style="left:453px;top:621px;height:17px"></div>
<div class="v" style="left:529px;top:621px;height:17px"></div>
<div class="v" style="left:597px;top:621px;height:17px"></div>
<div class="v" style="left:661px;top:621px;height:17px"></div>
<div class="v" style="left:880px;top:621px;height:17px"></div>
<div class="v" style="left:955px;top:621px;height:17px"></div>
<div class="v" style="left:1025px;top:621px;height:17px"></div>
<div class="v" style="left:1105px;top:621px;height:17px"></div>
<div class="v" style="left:1180px;top:621px;height:17px"></div>
<div class="v" style="left:1343px;top:621px;height:17px"></div>
<div class="v" style="left:1529px;top:621px;height:17px"></div>
<div class="v" style="left:1603px;top:621px;height:17px"></div>
<div class="v" style="left:1790px;top:621px;height:17px"></div>
<div class="v" style="left:1846px;top:621px;height:17px"></div>
<div class="v" style="left:3054px;top:621px;height:17px"></div>
<div class="v" style="left:4733px;top:621px;height:17px"></div>
<div class="v" style="left:5629px;top:621px;height:17px"></div>
<div class="v" style="left:5815px;top:621px;height:17px"></div>
<div class="v" style="left:152px;top:652px;height:26px"></div>
<div class="v" style="left:1256px;top:655px;height:23px"></div>
<div class="v" style="left:5723px;top:652px;height:26px"></div>
<div class="v" style="left:5929px;top:655px;height:23px"></div>
<div class="v" style="left:70px;top:678px;height:17px"></div>
<div class="v" style="left:144px;top:678px;height:17px"></div>
<div class="v" style="left:1186px;top:678px;height:17px"></div>
<div class="v" style="left:5582px;top:678px;height:17px"></div>
<div class="v" style="left:5668px;top:678px;height:17px"></div>
<div class="v" style="left:5760px;top:678px;height:17px"></div>
<div class="v" style="left:5844px;top:678px;height:17px"></div>
</div>
<script>
(function(){
  var c=document.getElementById('c');
  function fit(){
    var w=window.innerWidth||document.documentElement.clientWidth||6000;
    var h=window.innerHeight||document.documentElement.clientHeight||733;
    var sx=w/6000, sy=h/733;
    if(!(sx>0))sx=1; if(!(sy>0))sy=1;
    c.style.transform=(Math.abs(sx-1)<0.001&&Math.abs(sy-1)<0.001)?'none':'scale('+sx+','+sy+')';
  }
  fit(); window.addEventListener('resize',fit);
})();
</script>
</body></html>
